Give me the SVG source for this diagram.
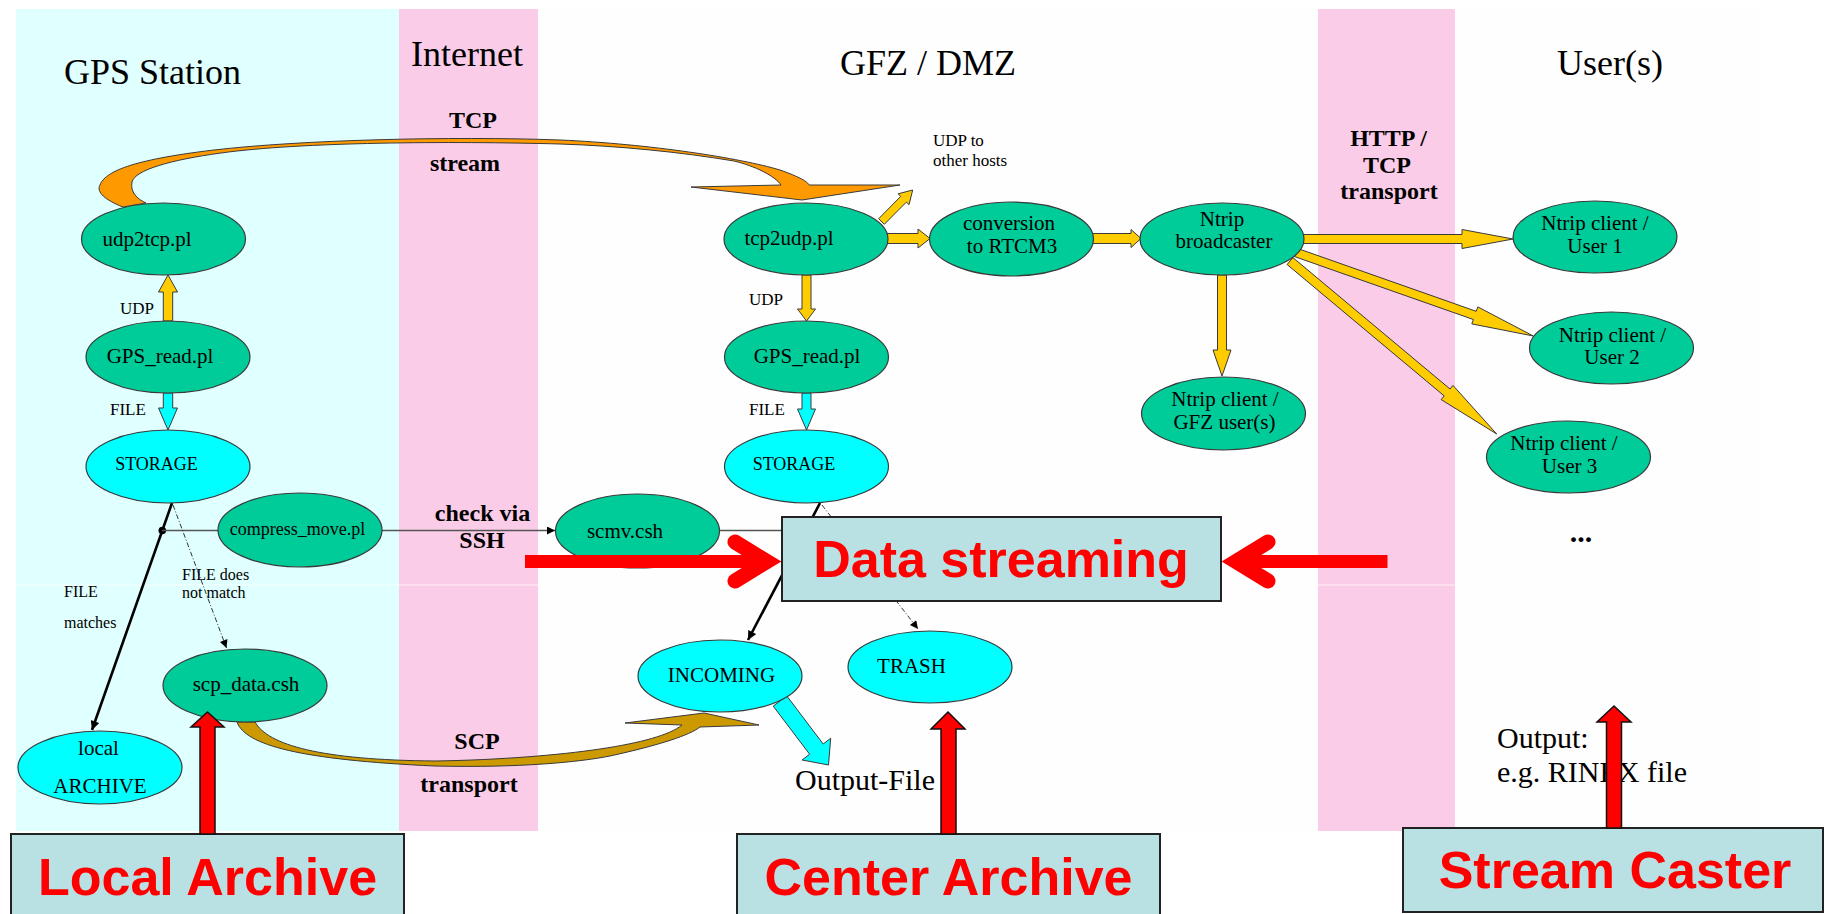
<svg xmlns="http://www.w3.org/2000/svg" width="1825" height="914" viewBox="0 0 1825 914">
<defs>
<style>
.g{fill:#00CC99;stroke:#3a3a3a;stroke-width:1.2}
.c{fill:#00FFFF;stroke:#3a3a3a;stroke-width:1.2}
.t{font-family:"Liberation Serif","Times New Roman",serif;fill:#000}
.n21{font-size:21px;text-anchor:middle}
.n18{font-size:18px;text-anchor:middle}
.s17{font-size:17px}
.s16{font-size:16px}
.b24{font-size:24px;font-weight:bold;text-anchor:middle}
.h{font-size:36px}
.big{font-family:"Liberation Sans",Arial,sans-serif;font-weight:bold;font-size:52px;fill:#FF0000;text-anchor:middle}
.box{fill:#B9E0E3;stroke:#222;stroke-width:2}
.ya{fill:#FFCC00;stroke:#3a3a3a;stroke-width:1}
.ca{fill:#00FFFF;stroke:#3a3a3a;stroke-width:1}
.ra{fill:#FF0000;stroke:#111;stroke-width:1.5}
.rc{fill:none;stroke:#FF0000;stroke-width:15;stroke-linecap:round;stroke-linejoin:miter;stroke-miterlimit:10}
.thick{stroke:#000;stroke-width:2.6;fill:none}
.thin{stroke:#555;stroke-width:1.3;fill:none}
.dash{stroke:#333;stroke-width:1;fill:none;stroke-dasharray:5,2,1,2}
</style>
<marker id="ah" viewBox="0 0 10 10" refX="10" refY="5" markerWidth="12" markerHeight="9" markerUnits="userSpaceOnUse" orient="auto">
<path d="M0,0 L10,5 L0,10 z" fill="#000"/>
</marker>
<marker id="ahs" viewBox="0 0 10 10" refX="10" refY="5" markerWidth="10" markerHeight="8" markerUnits="userSpaceOnUse" orient="auto">
<path d="M0,0 L10,5 L0,10 z" fill="#000"/>
</marker>
</defs>

<g id="background">
<rect x="0" y="0" width="1825" height="914" fill="#ffffff"/>
<rect x="16" y="9" width="1742" height="822" fill="#fefefe"/>
<rect x="16" y="9" width="383" height="822" fill="#E0FFFF"/>
<rect x="399" y="9" width="139" height="822" fill="#FBCCE7"/>
<rect x="1318" y="9" width="137" height="822" fill="#FBCCE7"/>
<line x1="16" y1="585" x2="1758" y2="585" stroke="#ffffff" stroke-opacity="0.7" stroke-width="1"/>
</g>

<g id="titles" class="t">
<text class="h" x="64" y="84">GPS Station</text>
<text class="h" x="411" y="66">Internet</text>
<text class="h" x="840" y="75">GFZ / DMZ</text>
<text class="h" x="1557" y="75">User(s)</text>
</g>

<g id="connectors">
<path id="tcp-stream" d="M123,207 C105,200 96,192 100,185 C105,172 130,160 214,150 C300,140 450,136 560,140 C650,144 740,158 780,170 C800,177 808,182 809,185 L900,185 L802,200 L691,187 L781,185 C775,176 755,166 734,161 C680,152 620,146 560,144 C450,141 300,142 221,153 C170,160 135,170 132,182 C130,192 137,199 146,203 Z" fill="#FF9900" stroke="#3a3a3a" stroke-width="1"/>
<path id="scp-transport" d="M237,722 C245,745 300,760 435,766 C520,768 580,762 610,756 C660,745 690,735 700,727 L759,725 L704,713 L625,723 L682,725 C670,735 640,743 600,749 C560,755 500,760 435,761 C320,760 268,745 255,722 Z" fill="#CC9900" stroke="#3a3a3a" stroke-width="1"/>
<polygon class="ya" points="163.3,321 163.3,292 158.5,292 168,275 177.5,292 172.7,292 172.7,321"/>
<polygon class="ca" points="163.3,393 163.3,408 158.5,408 168,430 177.5,408 172.7,408 172.7,393"/>
<polygon class="ya" points="802,275 802,309 797.5,309 806.5,321 815.5,309 811,309 811,275"/>
<polygon class="ca" points="802,393 802,409 797.5,409 806.5,430 815.5,409 811,409 811,393"/>
<polygon class="ya" points="886,233.5 918,233.5 918,229 930,238.5 918,248 918,243.5 886,243.5"/>
<polygon class="ya" points="884.3,224.3 906.4,202.1 909,204.7 912.7,190 898.1,193.8 900.7,196.4 878.7,218.7"/>
<polygon class="ya" points="1092,233.5 1131,233.5 1131,229.5 1141,238.5 1131,247.5 1131,243.5 1092,243.5"/>
<polygon class="ya" points="1302,234.5 1462,234.5 1462,229.5 1513,239 1462,248.5 1462,243.5 1302,243.5"/>
<polygon class="ya" points="1297.4,248.4 1476.2,311.3 1477.8,306.9 1533.3,336 1471.8,323.9 1473.4,319.5 1294.6,256.6"/>
<polygon class="ya" points="1292.9,257.6 1450,389 1453,385.4 1496.7,434 1441.2,399.6 1444.2,395.9 1287.1,264.5"/>
<polygon class="ya" points="1217.5,275 1217.5,350 1213,350 1222,376 1231,350 1226.5,350 1226.5,275"/>
<polygon class="ca" points="786.8,695.9 823.2,744 830.7,738.2 828.5,765 802.1,760 809.6,754.2 773.2,706.1"/>
<line class="thick" x1="172" y1="503" x2="92" y2="730" marker-end="url(#ah)"/>
<circle cx="162.3" cy="530.5" r="3.8" fill="#000"/>
<line class="thin" x1="162" y1="530.5" x2="218" y2="530.5"/>
<line class="thin" x1="382" y1="530.5" x2="555" y2="530.5" marker-end="url(#ahs)"/>
<line class="thin" x1="719" y1="530.5" x2="790" y2="530.5"/>
<line class="dash" x1="173" y1="505" x2="226.5" y2="648" marker-end="url(#ahs)"/>
<line class="thick" x1="820" y1="503" x2="748" y2="640" marker-end="url(#ah)"/>
<line class="dash" x1="822" y1="505" x2="918" y2="629" marker-end="url(#ahs)"/>
</g>

<g id="node-udp2tcp"><ellipse class="g" cx="163.5" cy="239" rx="82" ry="36"/><text class="t n21" x="147" y="246">udp2tcp.pl</text></g>
<g id="node-gpsread-left"><ellipse class="g" cx="168" cy="357" rx="82" ry="36"/><text class="t n21" x="160" y="363">GPS_read.pl</text></g>
<g id="node-storage-left"><ellipse class="c" cx="168" cy="466.5" rx="82" ry="36.5"/><text class="t n18" x="156.5" y="470">STORAGE</text></g>
<g id="node-compress"><ellipse class="g" cx="300" cy="530" rx="82" ry="37"/><text class="t n18" x="297.5" y="535">compress_move.pl</text></g>
<g id="node-scpdata"><ellipse class="g" cx="245" cy="685.5" rx="82" ry="36.5"/><text class="t n21" x="246" y="691">scp_data.csh</text></g>
<g id="node-localarchive"><ellipse class="c" cx="100" cy="767.5" rx="82" ry="36.5"/><text class="t n21" x="98.5" y="755">local</text><text class="t n21" x="100" y="793">ARCHIVE</text></g>
<g id="node-tcp2udp"><ellipse class="g" cx="806" cy="239" rx="82" ry="36"/><text class="t n21" x="789" y="245">tcp2udp.pl</text></g>
<g id="node-conversion"><ellipse class="g" cx="1011.5" cy="239" rx="82" ry="37"/><text class="t n21" x="1009" y="230">conversion</text><text class="t n21" x="1012" y="253">to RTCM3</text></g>
<g id="node-broadcaster"><ellipse class="g" cx="1222" cy="239" rx="82" ry="36"/><text class="t n21" x="1222" y="226">Ntrip</text><text class="t n21" x="1224" y="248">broadcaster</text></g>
<g id="node-gpsread-right"><ellipse class="g" cx="806.5" cy="357" rx="82" ry="36"/><text class="t n21" x="807" y="363">GPS_read.pl</text></g>
<g id="node-storage-right"><ellipse class="c" cx="806.5" cy="466.5" rx="82" ry="36.5"/><text class="t n18" x="794" y="470">STORAGE</text></g>
<g id="node-scmv"><ellipse class="g" cx="637.5" cy="531" rx="82" ry="37"/><text class="t n21" x="625" y="538">scmv.csh</text></g>
<g id="node-incoming"><ellipse class="c" cx="720" cy="676" rx="82" ry="36"/><text class="t n21" x="721.5" y="682">INCOMING</text></g>
<g id="node-trash"><ellipse class="c" cx="930" cy="667" rx="82" ry="36"/><text class="t n21" x="911.5" y="673">TRASH</text></g>
<g id="node-gfzuser"><ellipse class="g" cx="1223.5" cy="413.5" rx="82" ry="36.5"/><text class="t n21" x="1225" y="406">Ntrip client /</text><text class="t n21" x="1224.5" y="429">GFZ user(s)</text></g>
<g id="node-user1"><ellipse class="g" cx="1595" cy="237" rx="82" ry="36"/><text class="t n21" x="1595" y="230">Ntrip client /</text><text class="t n21" x="1595" y="253">User 1</text></g>
<g id="node-user2"><ellipse class="g" cx="1611.5" cy="348" rx="82" ry="36"/><text class="t n21" x="1612.5" y="342">Ntrip client /</text><text class="t n21" x="1612" y="364">User 2</text></g>
<g id="node-user3"><ellipse class="g" cx="1568.5" cy="457" rx="82" ry="36"/><text class="t n21" x="1564" y="450">Ntrip client /</text><text class="t n21" x="1569.5" y="473">User 3</text></g>

<g id="labels" class="t">
<text class="b24" x="473" y="128">TCP</text>
<text class="b24" x="465" y="171">stream</text>
<text class="b24" x="482.5" y="521">check via</text>
<text class="b24" x="482" y="548">SSH</text>
<text class="b24" x="477" y="749">SCP</text>
<text class="b24" x="469" y="792">transport</text>
<text class="b24" x="1388.5" y="146">HTTP /</text>
<text class="b24" x="1387" y="173">TCP</text>
<text class="b24" x="1389" y="199">transport</text>
<text class="s17" x="120" y="314">UDP</text>
<text class="s17" x="110" y="415">FILE</text>
<text class="s17" x="749" y="305">UDP</text>
<text class="s17" x="749" y="415">FILE</text>
<text class="s17" x="933" y="146">UDP to</text>
<text class="s17" x="933" y="166">other hosts</text>
<text class="s16" x="182" y="580">FILE does</text>
<text class="s16" x="182" y="598">not match</text>
<text class="s16" x="64" y="597">FILE</text>
<text class="s16" x="64" y="628">matches</text>
<text font-size="30" font-weight="bold" text-anchor="middle" x="1581" y="542">...</text>
<text font-size="30" x="795" y="790">Output-File</text>
<text font-size="30" x="1497" y="748">Output:</text>
<text font-size="30" x="1497" y="782">e.g. RINEX file</text>
</g>

<g id="data-streaming">
<rect class="box" x="782" y="517" width="439" height="84"/>
<text class="big" x="1001" y="577">Data streaming</text>
</g>
<g id="local-archive">
<rect class="box" x="11" y="834" width="393" height="90"/>
<text class="big" x="207.5" y="895">Local Archive</text>
</g>
<g id="center-archive">
<rect class="box" x="737" y="834" width="423" height="90"/>
<text class="big" x="948.5" y="895">Center Archive</text>
</g>
<g id="stream-caster">
<rect class="box" x="1403" y="828" width="420" height="84"/>
<text class="big" x="1615" y="888">Stream Caster</text>
</g>

<g id="red-arrows">
<rect x="525" y="555" width="240" height="13" fill="#FF0000"/>
<polyline class="rc" points="735,542 767,561.5 735,581"/>
<rect x="1237" y="555" width="150.5" height="13" fill="#FF0000"/>
<polyline class="rc" points="1268,542 1236,561.5 1268,581"/>
<polygon class="ra" points="200,834 200,727 191,727 207.5,712 224,727 215,727 215,834"/>
<polygon class="ra" points="941,834 941,729 931,729 948,712 965,729 956,729 956,834"/>
<polygon class="ra" points="1606.5,828 1606.5,722 1597,722 1614,706 1631,722 1621.5,722 1621.5,828"/>
</g>
</svg>
